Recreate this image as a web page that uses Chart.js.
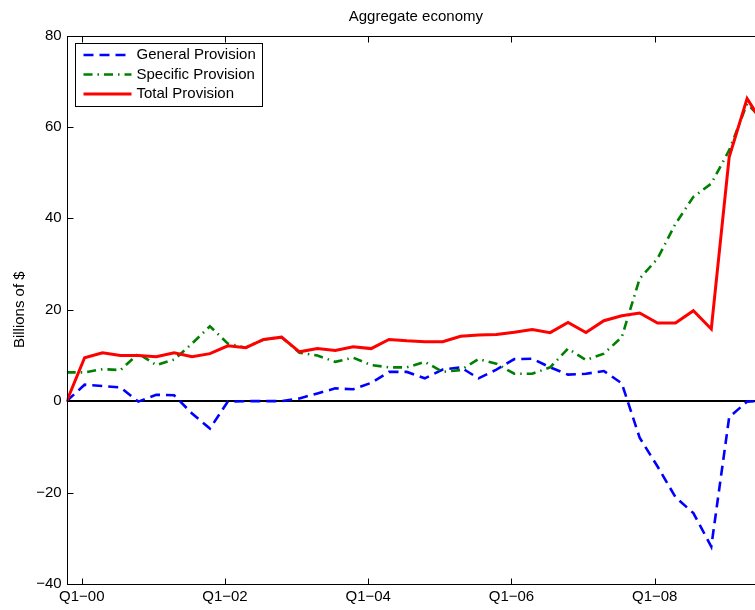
<!DOCTYPE html>
<html>
<head>
<meta charset="utf-8">
<script src="https://cdn.jsdelivr.net/npm/chart.js@4.4.0/dist/chart.umd.min.js"></script>
<style>
  html, body { margin: 0; padding: 0; background: #fff; }
  #wrap { width: 755px; height: 610px; overflow: hidden; }
</style>
</head>
<body>
<div id="wrap"><canvas id="chart" width="800" height="610"></canvas></div>
<script>
// quarters, Q4-99 .. Q3-09
const quarters = [
  'Q4-99',
  'Q1-00', 'Q2-00', 'Q3-00', 'Q4-00',
  'Q1-01', 'Q2-01', 'Q3-01', 'Q4-01',
  'Q1-02', 'Q2-02', 'Q3-02', 'Q4-02',
  'Q1-03', 'Q2-03', 'Q3-03', 'Q4-03',
  'Q1-04', 'Q2-04', 'Q3-04', 'Q4-04',
  'Q1-05', 'Q2-05', 'Q3-05', 'Q4-05',
  'Q1-06', 'Q2-06', 'Q3-06', 'Q4-06',
  'Q1-07', 'Q2-07', 'Q3-07', 'Q4-07',
  'Q1-08', 'Q2-08', 'Q3-08', 'Q4-08',
  'Q1-09', 'Q2-09', 'Q3-09'
];

const generalProvision = [
  0, 3.6, 3.3, 3.0, -0.1, 1.4, 1.3, -2.7, -6.0, -0.1,
  0, 0, 0, 0.6, 1.7, 2.8, 2.6, 4.0, 6.4, 6.4,
  5.0, 6.9, 7.4, 5.0, 6.9, 9.2, 9.3, 7.4, 5.8, 6.0,
  6.6, 3.9, -8.0, -14.3, -21.0, -24.5, -31.8, -3.5, -0.1, 0.1
];
const specificProvision = [
  6.3, 6.3, 7.0, 6.8, 10.4, 7.9, 9.1, 12.6, 16.4, 12.6,
  11.7, 13.5, 14.0, 10.6, 10.0, 8.6, 9.5, 7.9, 7.4, 7.4,
  8.6, 6.4, 6.8, 9.2, 8.2, 6.0, 6.0, 7.4, 11.5, 9.0,
  10.4, 14.0, 26.8, 31.2, 38.8, 44.7, 47.6, 54.9, 65.1, 61.0
];
const totalProvision = [
  0, 9.5, 10.6, 10.0, 10.0, 9.7, 10.6, 9.7, 10.4, 12.1,
  11.7, 13.5, 14.0, 10.8, 11.5, 11.1, 11.9, 11.5, 13.5, 13.2,
  13.0, 13.0, 14.2, 14.5, 14.6, 15.1, 15.7, 15.0, 17.2, 15.0,
  17.6, 18.7, 19.3, 17.1, 17.1, 19.8, 15.8, 53.4, 66.2, 60.0
];

const seriesNames = ['General Provision', 'Specific Provision', 'Total Provision'];
const xTickLabels = ['Q1-00', 'Q1-02', 'Q1-04', 'Q1-06', 'Q1-08'];
const yTicks = [-40, -20, 0, 20, 40, 60, 80];

// labels sit a little before the data point of the same quarter
const labelShift = -0.16;
const xTickValues = xTickLabels.map(l => quarters.indexOf(l) + labelShift);

const FONT = '"Liberation Sans", Arial, Helvetica, sans-serif';
Chart.defaults.font.family = FONT;
Chart.defaults.font.size = 15;
Chart.defaults.color = '#000';

const minus = s => String(s).replace(/-/g, '\u2212');

const toPoints = arr => arr.map((v, i) => ({ x: i, y: v }));

const styles = [
  { color: '#0000ff', width: 2.6, dash: [10, 6] },
  { color: '#008000', width: 2.6, dash: [9, 5, 1.5, 5] },
  { color: '#ff0000', width: 3, dash: [] }
];

// axes box, inward ticks, zero line and legend, MATLAB style
const frame = {
  id: 'frame',
  beforeDatasetsDraw(chart) {
    const { ctx, chartArea: a, scales: { y } } = chart;
    const y0 = Math.round(y.getPixelForValue(0));
    ctx.save();
    ctx.strokeStyle = '#000';
    ctx.lineWidth = 2;
    ctx.beginPath();
    ctx.moveTo(a.left, y0);
    ctx.lineTo(a.right, y0);
    ctx.stroke();
    ctx.restore();
  },
  afterDatasetsDraw(chart) {
    const { ctx, chartArea: a, scales: { x, y } } = chart;
    const L = Math.round(a.left) + 0.5, R = Math.round(a.right) + 0.5;
    const T = Math.round(a.top) + 0.5, B = Math.round(a.bottom) + 0.5;
    ctx.save();
    ctx.strokeStyle = '#000';
    ctx.lineWidth = 1;
    ctx.strokeRect(L, T, R - L, B - T);
    ctx.beginPath();
    y.ticks.forEach(t => {
      const py = Math.round(y.getPixelForValue(t.value)) + 0.5;
      ctx.moveTo(L, py); ctx.lineTo(L + 6, py);
      ctx.moveTo(R, py); ctx.lineTo(R - 6, py);
    });
    x.ticks.forEach(t => {
      const px = Math.round(x.getPixelForValue(t.value)) + 0.5;
      ctx.moveTo(px, B); ctx.lineTo(px, B - 6);
      ctx.moveTo(px, T); ctx.lineTo(px, T + 6);
    });
    ctx.stroke();

    // legend
    ctx.font = '15px ' + FONT;
    const bx = L + 7, by = T + 6.5;
    const textX = bx + 62;
    const maxW = Math.max(...seriesNames.map(n => ctx.measureText(n).width));
    const bw = textX - bx + maxW + 6, bh = 63;
    ctx.fillStyle = '#fff';
    ctx.fillRect(bx, by, bw, bh);
    ctx.strokeRect(Math.round(bx) + 0.5, Math.round(by) + 0.5, Math.round(bw), bh);
    seriesNames.forEach((name, i) => {
      const ry = by + 12 + i * 19.5;
      const s = styles[i];
      ctx.strokeStyle = s.color;
      ctx.lineWidth = s.width;
      ctx.setLineDash(s.dash);
      ctx.beginPath();
      ctx.moveTo(bx + 9, ry);
      ctx.lineTo(bx + 57, ry);
      ctx.stroke();
      ctx.setLineDash([]);
      ctx.fillStyle = '#000';
      ctx.textBaseline = 'middle';
      ctx.textAlign = 'left';
      ctx.fillText(name, textX, ry);
    });
    ctx.restore();
  }
};

const seriesValues = [generalProvision, specificProvision, totalProvision];

new Chart(document.getElementById('chart'), {
  type: 'line',
  data: {
    datasets: seriesNames.map((name, i) => ({
      label: name,
      data: toPoints(seriesValues[i]),
      borderColor: styles[i].color,
      borderWidth: styles[i].width,
      borderDash: styles[i].dash,
      pointRadius: 0,
      tension: 0,
      fill: false,
      order: 2 - i
    }))
  },
  options: {
    responsive: false,
    animation: false,
    layout: { padding: { left: 0, right: 35, top: 0, bottom: 0 } },
    plugins: {
      legend: { display: false },
      tooltip: { enabled: false },
      title: {
        display: true,
        text: 'Aggregate economy',
        fullSize: false,
        font: { size: 15, weight: 'normal' },
        color: '#000',
        padding: { top: 8, bottom: 9.5 }
      }
    },
    scales: {
      x: {
        type: 'linear',
        min: 0,
        max: quarters.length - 1,
        grid: { display: false, drawTicks: false },
        border: { display: false },
        afterBuildTicks: scale => {
          scale.ticks = xTickValues.map(v => ({ value: v }));
        },
        afterFit: scale => { scale.height = 26; },
        ticks: {
          autoSkip: false,
          maxRotation: 0,
          padding: 4,
          color: '#000',
          callback: v => {
            const k = xTickValues.findIndex(t => Math.abs(t - v) < 1e-6);
            return k >= 0 ? minus(xTickLabels[k]) : '';
          }
        }
      },
      y: {
        min: yTicks[0],
        max: yTicks[yTicks.length - 1],
        grid: { display: false, drawTicks: false },
        border: { display: false },
        afterBuildTicks: scale => {
          scale.ticks = yTicks.map(v => ({ value: v }));
        },
        afterFit: scale => { scale.width = 66.7; },
        title: {
          display: true,
          text: 'Billions of $',
          color: '#000',
          font: { size: 15 },
          padding: { top: 11, bottom: 0 }
        },
        ticks: {
          padding: 5,
          color: '#000',
          callback: v => minus(v)
        }
      }
    }
  },
  plugins: [frame]
});
</script>
</body>
</html>
